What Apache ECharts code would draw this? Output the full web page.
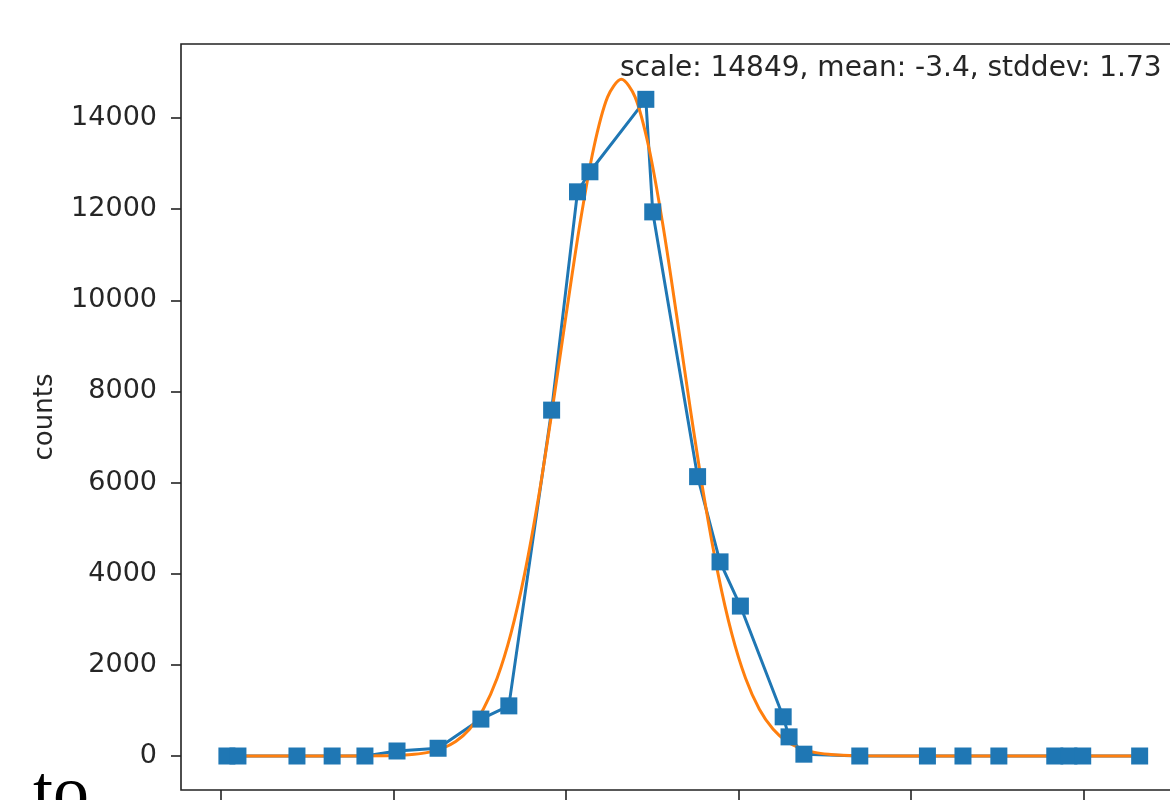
<!DOCTYPE html>
<html lang="en">
<head>
    <meta charset="UTF-8">
    <title>counts fit</title>
    <script src="https://cdn.jsdelivr.net/npm/echarts@6/dist/echarts.min.js"></script>
    <style>
        html, body{
            margin: 0;
            padding: 0;
            background: #fff;
        }
        #box{
            width: 1170px;
            height: 800px;
        }
    </style>
</head>
<body>
<div id="box"></div>
<script>
    // measured points (blue squares)
    var countX = [-14.83, -14.51, -12.80, -11.78, -10.83, -9.90, -8.71, -7.47, -6.66, -5.42,
        -4.67, -4.31, -2.69, -2.49, -1.19, -0.54, 0.05, 1.29, 1.46, 1.89,
        3.51, 5.47, 6.50, 7.54, 9.16, 9.57, 9.97, 11.62];
    var countY = [0, 0, 0, 0, 0, 110, 170, 810, 1100, 7590,
        12380, 12820, 14410, 11940, 6130, 4260, 3290, 860, 420, 40,
        0, 0, 0, 0, 0, 0, 0, 0];

    // fitted curve (orange), even steps round the peak
    var fitX = [-14.83, -12.6, -10.2, -9.8, -9.4, -9.0, -8.6, -8.2, -7.8, -7.4,
        -7.0, -6.6, -6.2, -5.8, -5.4, -5.0, -4.6, -4.2, -3.8, -3.4,
        -3.0, -2.6, -2.2, -1.8, -1.4, -1.0, -0.6, -0.2, 0.2, 0.6,
        1.0, 1.4, 1.8, 2.2, 2.6, 3.0, 3.4, 5.8, 11.62];
    var fitY = [0, 0, 7, 16, 36, 79, 162, 316, 585, 1025,
        1704, 2684, 4008, 5672, 7612, 9682, 11674, 13343, 14457, 14849,
        14457, 13343, 11674, 9682, 7612, 5672, 4008, 2684, 1704, 1025,
        585, 316, 162, 79, 36, 16, 7, 0, 0];

    var yTicks = [0, 2000, 4000, 6000, 8000, 10000, 12000, 14000];
    var xTicks = [-15, -10, -5, 0, 5, 10];
    var fitText = 'scale: 14849, mean: -3.4, stddev: 1.73';

    function pairs(xs, ys){
        var out = [];
        for(var i=0; i<xs.length; i++){
            out.push([xs[i], ys[i]]);
        }
        return out;
    }

    var myChart = echarts.init(document.getElementById('box'), null, {renderer: 'canvas'});
    var option = {
        animation: false,
        backgroundColor: '#fff',
        grid: {
            left: 181,
            top: 44,
            width: 1008,
            height: 746,
            show: true,
            borderColor: '#222',
            borderWidth: 1.6,
            backgroundColor: 'transparent',
            outerBoundsMode: 'none'
        },
        xAxis: {
            type: 'value',
            min: -16.16,
            max: 13.05,
            splitLine: {show: false},
            axisLine: {show: false, onZero: false},
            axisTick: {
                show: true,
                inside: false,
                length: 10,
                customValues: xTicks,
                lineStyle: {color: '#222', width: 1.6}
            },
            axisLabel: {show: false}
        },
        yAxis: {
            type: 'value',
            min: -746,
            max: 15624,
            name: 'counts',
            nameLocation: 'middle',
            nameRotate: 90,
            nameGap: 123,
            nameTextStyle: {
                fontFamily: 'DejaVu Sans',
                fontSize: 26,
                color: '#262626'
            },
            splitLine: {show: false},
            axisLine: {show: false, onZero: false},
            axisTick: {
                show: true,
                inside: false,
                length: 10,
                customValues: yTicks,
                lineStyle: {color: '#222', width: 1.6}
            },
            axisLabel: {
                customValues: yTicks,
                margin: 24,
                fontFamily: 'DejaVu Sans',
                fontSize: 27,
                color: '#262626',
                formatter: function(v){ return String(v); }
            }
        },
        series: [
            {
                name: 'counts',
                type: 'line',
                data: pairs(countX, countY),
                symbol: 'rect',
                symbolSize: 17,
                showAllSymbol: true,
                lineStyle: {color: '#1f77b4', width: 3},
                itemStyle: {color: '#1f77b4'}
            },
            {
                name: 'fit',
                type: 'line',
                data: pairs(fitX, fitY),
                smooth: 0.3,
                symbol: 'none',
                lineStyle: {color: '#ff7f0e', width: 3},
                itemStyle: {color: '#ff7f0e'}
            }
        ],
        graphic: [
            {
                type: 'text',
                left: 620,
                top: 55,
                style: {
                    text: fitText,
                    font: '28px "DejaVu Sans"',
                    fill: '#262626'
                }
            },
            {
                type: 'text',
                left: 33,
                top: 760,
                style: {
                    text: 'to',
                    font: '72px "Liberation Serif"',
                    fill: '#000'
                }
            }
        ]
    };
    myChart.setOption(option, true);
</script>
</body>
</html>
